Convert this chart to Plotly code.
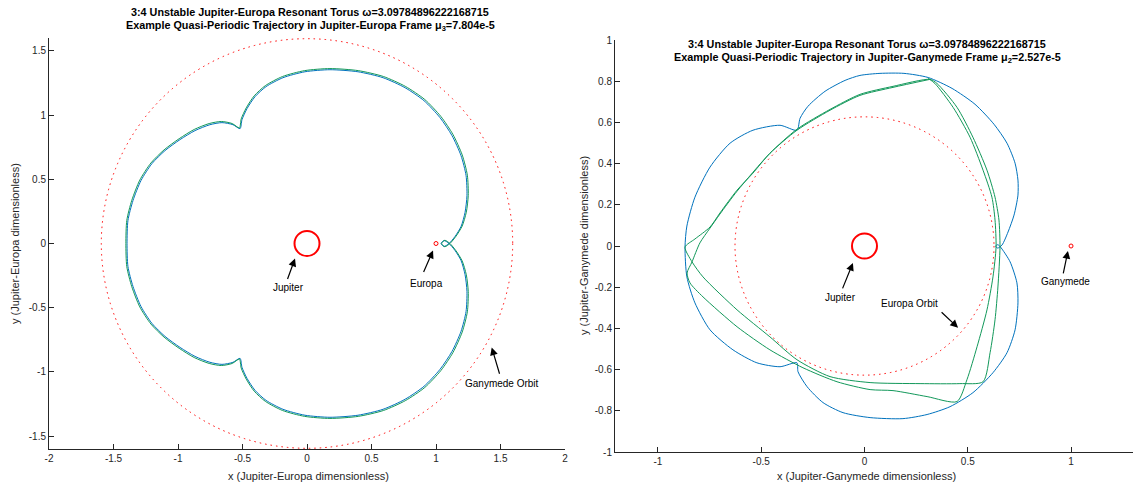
import plotly.graph_objects as go

# ---------------- data ----------------
# Left panel: trajectory in Jupiter-Europa rotating frame
left_blue_x = [1.101, 1.147, 1.194, 1.225, 1.240, 1.233, 1.194, 1.124, 1.031, 0.907, 0.760, 0.589, 0.395, 0.178,
               -0.016, -0.186, -0.318, -0.403, -0.465, -0.504, -0.519,
               -0.574, -0.659, -0.752, -0.868, -0.984, -1.101, -1.202, -1.287, -1.349, -1.388, -1.395,
               -1.388, -1.349, -1.287, -1.202, -1.101, -0.984, -0.868, -0.752, -0.659, -0.574, -0.519,
               -0.504, -0.465, -0.403, -0.318, -0.186, -0.016, 0.178, 0.395, 0.589, 0.760, 0.907, 1.031,
               1.124, 1.194, 1.233, 1.240, 1.225, 1.194, 1.147, 1.101,
               1.062, 1.039, 1.062, 1.101]
left_blue_y = [0.000, 0.054, 0.132, 0.241, 0.373, 0.529, 0.684, 0.840, 0.980, 1.112, 1.213, 1.291, 1.337, 1.353,
               1.337, 1.291, 1.221, 1.143, 1.050, 0.964, 0.894,
               0.925, 0.941, 0.925, 0.879, 0.809, 0.723, 0.622, 0.490, 0.334, 0.179, 0.000,
               -0.179, -0.334, -0.490, -0.622, -0.723, -0.809, -0.879, -0.925, -0.941, -0.925, -0.894,
               -0.964, -1.050, -1.143, -1.221, -1.291, -1.337, -1.353, -1.337, -1.291, -1.213, -1.112, -0.980,
               -0.840, -0.684, -0.529, -0.373, -0.241, -0.132, -0.054, 0.000,
               0.023, 0.000, -0.023, 0.000]

left_green_x = [1.108, 1.156, 1.203, 1.235, 1.250, 1.243, 1.203, 1.132, 1.038, 0.913, 0.765, 0.593, 0.397, 0.178,
                -0.018, -0.190, -0.323, -0.409, -0.471, -0.510, -0.524,
                -0.580, -0.664, -0.758, -0.874, -0.991, -1.108, -1.210, -1.296, -1.358, -1.397, -1.404,
                -1.397, -1.358, -1.296, -1.210, -1.108, -0.991, -0.874, -0.758, -0.664, -0.580, -0.524,
                -0.510, -0.471, -0.409, -0.323, -0.190, -0.018, 0.178, 0.397, 0.593, 0.765, 0.913, 1.038,
                1.132, 1.203, 1.243, 1.250, 1.235, 1.203, 1.156, 1.108,
                1.068, 1.044, 1.068, 1.108]
left_green_y = [0.000, 0.058, 0.136, 0.244, 0.375, 0.532, 0.690, 0.848, 0.989, 1.121, 1.222, 1.300, 1.346, 1.362,
                1.346, 1.300, 1.229, 1.150, 1.056, 0.970, 0.900,
                0.934, 0.950, 0.934, 0.888, 0.816, 0.729, 0.627, 0.494, 0.337, 0.180, 0.000,
                -0.180, -0.337, -0.494, -0.627, -0.729, -0.816, -0.888, -0.934, -0.950, -0.934, -0.900,
                -0.970, -1.056, -1.150, -1.229, -1.300, -1.346, -1.362, -1.346, -1.300, -1.222, -1.121, -0.989,
                -0.848, -0.690, -0.532, -0.375, -0.244, -0.136, -0.058, 0.000,
                0.025, 0.000, -0.025, 0.000]

# Right panel: trajectory in Jupiter-Ganymede rotating frame
right_blue_x = [0.666, 0.695, 0.724, 0.743, 0.743, 0.729, 0.690, 0.627, 0.535, 0.424, 0.308, 0.191, 0.075,
                -0.022, -0.094, -0.191, -0.274, -0.312, -0.327,
                -0.409, -0.540, -0.651, -0.748, -0.821, -0.860, -0.869, -0.860, -0.821, -0.748, -0.637,
                -0.521, -0.409, -0.327,
                -0.322, -0.278, -0.201, -0.104, 0.027, 0.186, 0.303, 0.414, 0.525, 0.622, 0.690, 0.729,
                0.743, 0.738, 0.705, 0.666,
                0.650, 0.640, 0.636, 0.645, 0.666]
right_blue_y = [0.005, 0.068, 0.150, 0.247, 0.320, 0.402, 0.499, 0.591, 0.688, 0.765, 0.818, 0.838, 0.838,
                0.828, 0.804, 0.751, 0.678, 0.620, 0.562,
                0.586, 0.562, 0.499, 0.383, 0.237, 0.097, -0.005, -0.150, -0.276, -0.407, -0.504,
                -0.567, -0.586, -0.567,
                -0.610, -0.683, -0.760, -0.809, -0.833, -0.838, -0.818, -0.780, -0.712, -0.615, -0.518, -0.407,
                -0.276, -0.179, -0.077, -0.015,
                0.004, 0.006, -0.004, -0.010, 0.005]

right_green_x = [0.317, 0.138, -0.022, -0.167, -0.327, -0.458, -0.540, -0.617, -0.700, -0.748, -0.821, -0.869,
                 -0.835, -0.782, -0.617, -0.458, -0.327, -0.167, 0.027, 0.269, 0.462, 0.574,
                 0.608, 0.632, 0.646, 0.656, 0.651, 0.632, 0.593, 0.525, 0.448, 0.351, 0.317,
                 0.138, -0.022, -0.167, -0.327, -0.458, -0.617, -0.700, -0.748, -0.797, -0.835, -0.859,
                 -0.845, -0.782, -0.617, -0.458, -0.298, -0.133, 0.027, 0.138, 0.303, 0.448,
                 0.496, 0.545, 0.593, 0.622, 0.637, 0.632, 0.617, 0.574, 0.511, 0.429, 0.341, 0.308]
right_green_y = [0.809, 0.770, 0.731, 0.659, 0.562, 0.450, 0.354, 0.271, 0.160, 0.092, 0.034, -0.005,
                 -0.077, -0.150, -0.310, -0.441, -0.552, -0.634, -0.663, -0.668, -0.668, -0.659,
                 -0.518, -0.358, -0.199, -0.005, 0.126, 0.237, 0.368, 0.528, 0.673, 0.789, 0.809,
                 0.775, 0.736, 0.663, 0.567, 0.450, 0.266, 0.155, 0.087, 0.015, -0.077, -0.131,
                 -0.179, -0.247, -0.392, -0.504, -0.591, -0.659, -0.697, -0.702, -0.731, -0.755,
                 -0.649, -0.489, -0.310, -0.150, -0.005, 0.126, 0.237, 0.368, 0.528, 0.673, 0.789, 0.814]

# bodies and orbits
jupiter_pos = (0.0, 0.0)
europa_pos = (1.0, 0.0)          # left frame
ganymede_pos = (1.0, 0.0)        # right frame
ganymede_orbit_r = 1.5946        # in Jupiter-Europa units
europa_orbit_r = 0.627           # in Jupiter-Ganymede units

# ticks
left_xticks = [-2, -1.5, -1, -0.5, 0, 0.5, 1, 1.5, 2]
left_xtext = ["-2", "-1.5", "-1", "-0.5", "0", "0.5", "1", "1.5", "2"]
left_yticks = [-1.5, -1, -0.5, 0, 0.5, 1, 1.5]
left_ytext = ["-1.5", "-1", "-0.5", "0", "0.5", "1", "1.5"]
right_xticks = [-1, -0.5, 0, 0.5, 1]
right_xtext = ["-1", "-0.5", "0", "0.5", "1"]
right_yticks = [-1, -0.8, -0.6, -0.4, -0.2, 0, 0.2, 0.4, 0.6, 0.8, 1]
right_ytext = ["-1", "-0.8", "-0.6", "-0.4", "-0.2", "0", "0.2", "0.4", "0.6", "0.8", "1"]

# ---------------- styling ----------------
W, H = 1133, 487
FONT = "Liberation Sans, Arial, Helvetica, sans-serif"
BLUE = "#0072BD"
GREEN = "#12985A"
RED = "#FF0000"
AX = "#262626"


def px_x(p):
    return p / W


def px_y(p):
    return (H - p) / H


fig = go.Figure()

LINE_BLUE = dict(color=BLUE, width=1, shape="spline", smoothing=0.7)
LINE_GREEN = dict(color=GREEN, width=1, shape="spline", smoothing=0.7)

# Left panel traces
fig.add_trace(go.Scatter(x=left_blue_x, y=left_blue_y, mode="lines", line=LINE_BLUE,
                         xaxis="x", yaxis="y", hoverinfo="skip"))
fig.add_trace(go.Scatter(x=left_green_x, y=left_green_y, mode="lines", line=LINE_GREEN,
                         xaxis="x", yaxis="y", hoverinfo="skip"))
fig.add_trace(go.Scatter(x=[jupiter_pos[0]], y=[jupiter_pos[1]], mode="markers",
                         marker=dict(symbol="circle-open", size=25, color=RED, line=dict(width=2, color=RED)),
                         xaxis="x", yaxis="y", hoverinfo="skip"))
fig.add_trace(go.Scatter(x=[europa_pos[0]], y=[europa_pos[1]], mode="markers",
                         marker=dict(symbol="circle-open", size=4, color=RED, line=dict(width=1, color=RED)),
                         xaxis="x", yaxis="y", hoverinfo="skip"))

# Right panel traces
fig.add_trace(go.Scatter(x=right_blue_x, y=right_blue_y, mode="lines", line=LINE_BLUE,
                         xaxis="x2", yaxis="y2", hoverinfo="skip"))
fig.add_trace(go.Scatter(x=right_green_x, y=right_green_y, mode="lines", line=LINE_GREEN,
                         xaxis="x2", yaxis="y2", hoverinfo="skip"))
fig.add_trace(go.Scatter(x=[jupiter_pos[0]], y=[jupiter_pos[1]], mode="markers",
                         marker=dict(symbol="circle-open", size=25, color=RED, line=dict(width=2, color=RED)),
                         xaxis="x2", yaxis="y2", hoverinfo="skip"))
fig.add_trace(go.Scatter(x=[ganymede_pos[0]], y=[ganymede_pos[1]], mode="markers",
                         marker=dict(symbol="circle-open", size=4, color=RED, line=dict(width=1, color=RED)),
                         xaxis="x2", yaxis="y2", hoverinfo="skip"))

# orbit circles
shapes = [
    dict(type="circle", xref="x", yref="y", x0=-ganymede_orbit_r, x1=ganymede_orbit_r,
         y0=-ganymede_orbit_r, y1=ganymede_orbit_r, line=dict(color=RED, width=1, dash="1.5px,4px")),
    dict(type="circle", xref="x2", yref="y2", x0=-europa_orbit_r, x1=europa_orbit_r,
         y0=-europa_orbit_r, y1=europa_orbit_r, line=dict(color=RED, width=1, dash="1.5px,4px")),
]

axis_common = dict(showgrid=False, zeroline=False, showline=True, linecolor=AX, linewidth=1,
                   ticks="inside", ticklen=5, tickwidth=1, tickcolor=AX, mirror=False,
                   tickfont=dict(family=FONT, size=10, color=AX), tickmode="array", automargin=False)

fig.update_layout(
    width=W, height=H, autosize=False,
    margin=dict(l=0, r=0, t=0, b=0, pad=0, autoexpand=False),
    paper_bgcolor="white", plot_bgcolor="white",
    showlegend=False,
    shapes=shapes,
    xaxis=dict(domain=[px_x(49), px_x(565)], range=[-2, 2], anchor="y",
               tickvals=left_xticks, ticktext=left_xtext, **axis_common),
    yaxis=dict(domain=[px_y(449), px_y(38)], range=[-1.6, 1.6], anchor="x",
               tickvals=left_yticks, ticktext=left_ytext, **axis_common),
    xaxis2=dict(domain=[px_x(615), px_x(1133)], range=[-1.208, 1.300], anchor="y2",
                tickvals=right_xticks, ticktext=right_xtext, **axis_common),
    yaxis2=dict(domain=[px_y(452), px_y(40)], range=[-1, 1], anchor="x2",
                tickvals=right_yticks, ticktext=right_ytext, **axis_common),
)

ann = []
tfont = dict(family=FONT, size=10.8, color="#000000")
C = dict(xanchor="center", yanchor="middle", showarrow=False)
# titles
ann.append(dict(xref="paper", yref="paper", x=px_x(310), y=px_y(12),
                text="<b>3:4 Unstable Jupiter-Europa Resonant Torus ω=3.09784896222168715</b>", font=tfont, **C))
ann.append(dict(xref="paper", yref="paper", x=px_x(310), y=px_y(26),
                text="<b>Example Quasi-Periodic Trajectory in Jupiter-Europa Frame μ<sub>3</sub>=7.804e-5</b>",
                font=tfont, **C))
ann.append(dict(xref="paper", yref="paper", x=px_x(867), y=px_y(44),
                text="<b>3:4 Unstable Jupiter-Europa Resonant Torus ω=3.09784896222168715</b>", font=tfont, **C))
ann.append(dict(xref="paper", yref="paper", x=px_x(867), y=px_y(58),
                text="<b>Example Quasi-Periodic Trajectory in Jupiter-Ganymede Frame μ<sub>2</sub>=2.527e-5</b>",
                font=tfont, **C))
# axis labels
lfont = dict(family=FONT, size=11, color=AX)
ann.append(dict(xref="paper", yref="paper", x=px_x(308), y=px_y(476),
                text="x (Jupiter-Europa dimensionless)", font=lfont, **C))
ann.append(dict(xref="paper", yref="paper", x=px_x(15), y=px_y(244), textangle=-90,
                text="y (Jupiter-Europa dimensionless)", font=lfont, **C))
ann.append(dict(xref="paper", yref="paper", x=px_x(866), y=px_y(476),
                text="x (Jupiter-Ganymede dimensionless)", font=lfont, **C))
ann.append(dict(xref="paper", yref="paper", x=px_x(584), y=px_y(246), textangle=-90,
                text="y (Jupiter-Ganymede dimensionless)", font=lfont, **C))

# arrow labels: (text, text_xy, tail_xy, head_xy, axes)
labels = [
    ("Jupiter", (-0.147, -0.342), (-0.155, -0.288), (-0.093, -0.117), "x", "y"),
    ("Europa", (0.930, -0.311), (0.899, -0.233), (0.977, -0.054), "x", "y"),
    ("Ganymede Orbit", (1.509, -1.092), (1.496, -1.026), (1.432, -0.809), "x", "y"),
    ("Jupiter", (-0.114, -0.252), (-0.109, -0.213), (-0.056, -0.082), "x2", "y2"),
    ("Europa Orbit", (0.220, -0.281), (0.366, -0.315), (0.453, -0.397), "x2", "y2"),
    ("Ganymede", (0.971, -0.174), (0.961, -0.140), (0.985, -0.024), "x2", "y2"),
]
afont = dict(family=FONT, size=10, color="#000000")
for txt, tpos, tail, head, xr, yr in labels:
    ann.append(dict(xref=xr, yref=yr, x=tpos[0], y=tpos[1], text=txt, font=afont, **C))
    ann.append(dict(xref=xr, yref=yr, axref=xr, ayref=yr, x=head[0], y=head[1], ax=tail[0], ay=tail[1],
                    text="", showarrow=True, arrowhead=2, arrowsize=1.3, arrowwidth=1.2,
                    arrowcolor="#000000", standoff=0, startstandoff=0))

fig.update_layout(annotations=ann)

fig.write_html("out.html")
